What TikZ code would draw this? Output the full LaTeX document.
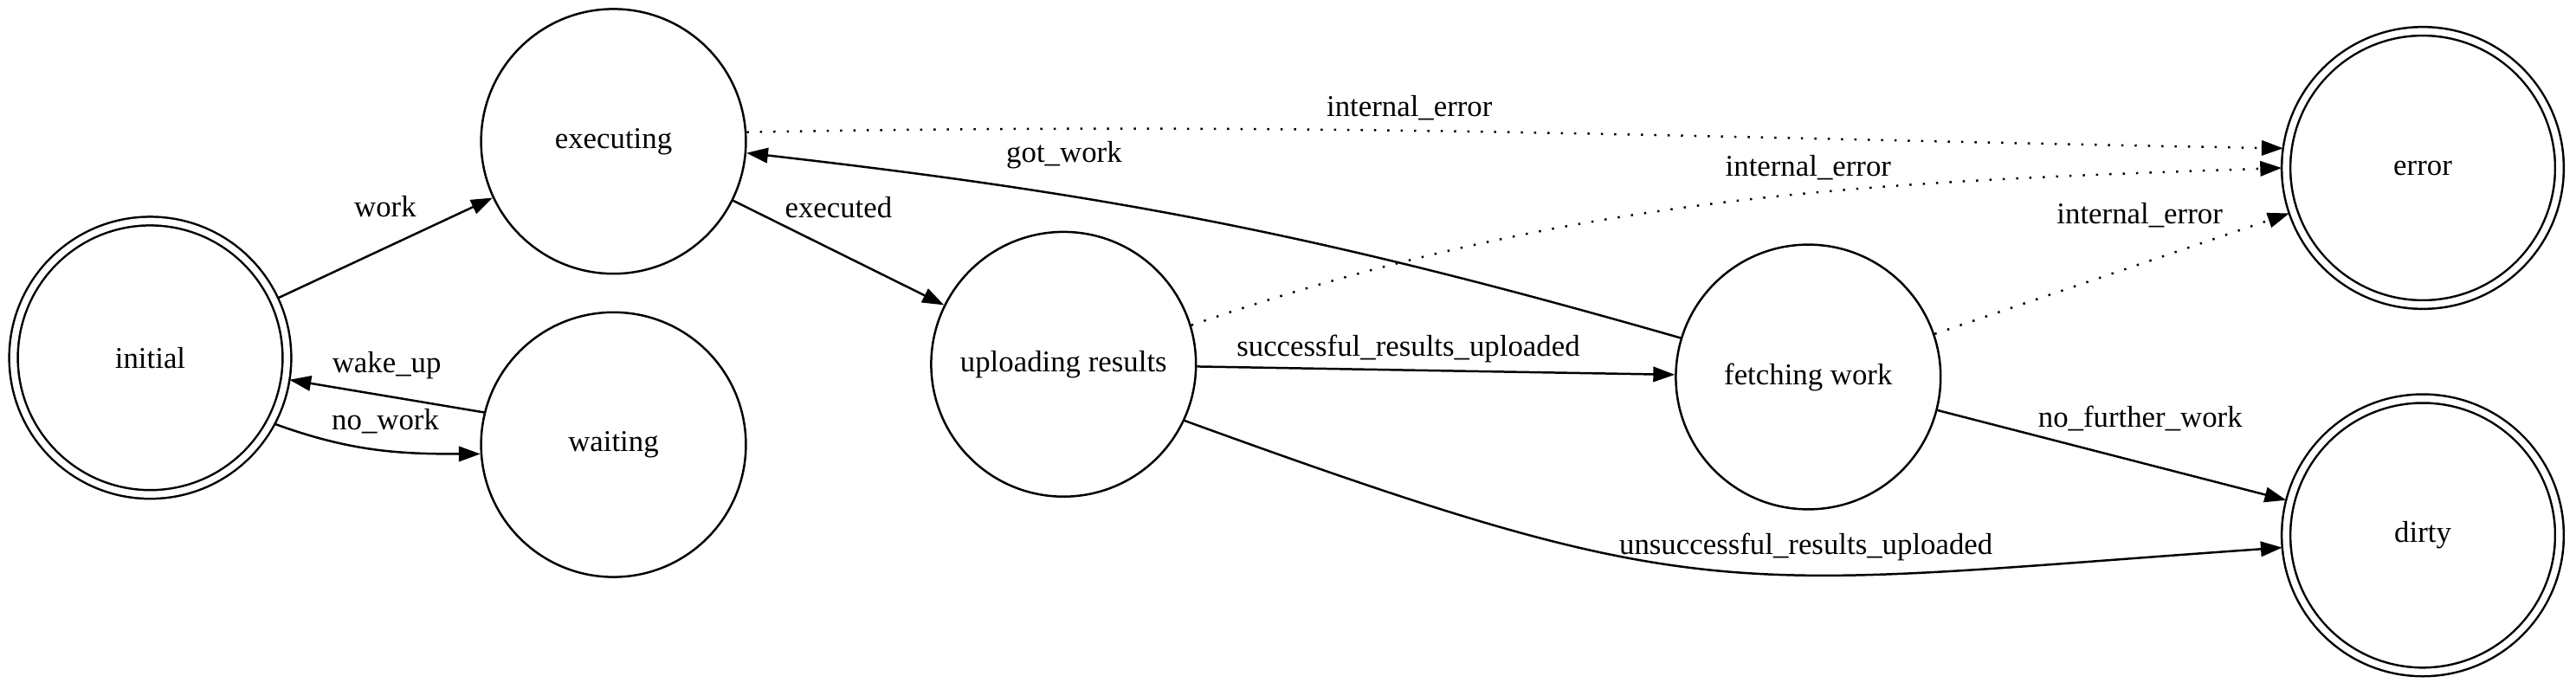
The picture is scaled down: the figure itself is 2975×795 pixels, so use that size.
\documentclass[tikz,border=0pt]{standalone}
\usepackage{fontspec}
\setmainfont{Liberation Serif}
\usetikzlibrary{arrows.meta}

\begin{document}
\begin{tikzpicture}[x=0.4022pt, y=-0.4022pt, line width=1pt,
    >={Triangle[length=10pt,width=7pt]},
    font=\fontsize{14}{16}\selectfont,
    state/.style={circle, draw, minimum size=123pt, inner sep=0pt},
    final/.style={circle, draw, double, double distance=3pt, minimum size=127pt, inner sep=0pt, outer sep=2pt},
    lbl/.style={inner sep=0pt},
    errline/.style={dash pattern=on 1pt off 5.2pt}]
    % Frame
    \useasboundingbox (0,0) rectangle (2975,795);

    % States
    \node[final] (initial) at (173.5,413.3) {initial};
    \node[state] (executing) at (708.5,163.3) {executing};
    \node[state] (waiting) at (708.5,513.7) {waiting};
    \node[state] (uploading) at (1228.3,420.8) {uploading results};
    \node[state] (fetching) at (2088.3,435.5) {fetching work};
    \node[final] (error) at (2798,194) {error};
    \node[final] (dirty) at (2798,618.4) {dirty};

    % Transitions
    \draw[->] (initial) -- (executing) node[lbl, midway, yshift=19.3pt] (work) {work};
    \draw[->] (waiting.166.6) -- (initial.-9.5) node[lbl, midway, yshift=14.4pt] (wakeup) {wake\_up};
    \draw[->] (initial.-28) to[out=-20, in=180] node[lbl, midway, xshift=4.5pt, yshift=13.1pt] (nowork) {no\_work} (waiting.184.6);
    \draw[->] (executing) -- (uploading) node[lbl, midway, yshift=21pt] (executed) {executed};
    \draw[->] (fetching.163) to[out=164, in=-6.5] node[lbl, pos=0.67, xshift=-2.9pt, yshift=19.2pt] (gotwork) {got\_work} (executing.-5);
    \draw[->] (uploading) -- (fetching) node[lbl, midway, xshift=-12.8pt, yshift=10.1pt] (success) {successful\_results\_uploaded};
    \draw[->] (uploading.-25) to[out=-20, in=184, looseness=1.3] node[lbl, pos=0.6, yshift=13.1pt] (unsuccess) {unsuccessful\_results\_uploaded} (dirty.185);
    \draw[->] (fetching) -- (dirty) node[lbl, midway, xshift=13.2pt, yshift=17.2pt] (nofurther) {no\_further\_work};

    % Errors
    \draw[->, errline] (executing.4) to[out=1, in=179] node[lbl, pos=0.425, yshift=10.4pt] (errexec) {internal\_error} (error.172);
    \draw[->, errline] (uploading.17) to[out=19, in=182, looseness=0.95] node[lbl, pos=0.58, xshift=-1.6pt, yshift=11.7pt] (errupload) {internal\_error} (error.180);
    \draw[->, errline] (fetching) -- (error) node[lbl, midway, xshift=12.9pt, yshift=27.2pt] (errfetch) {internal\_error};
\end{tikzpicture}
\end{document}
